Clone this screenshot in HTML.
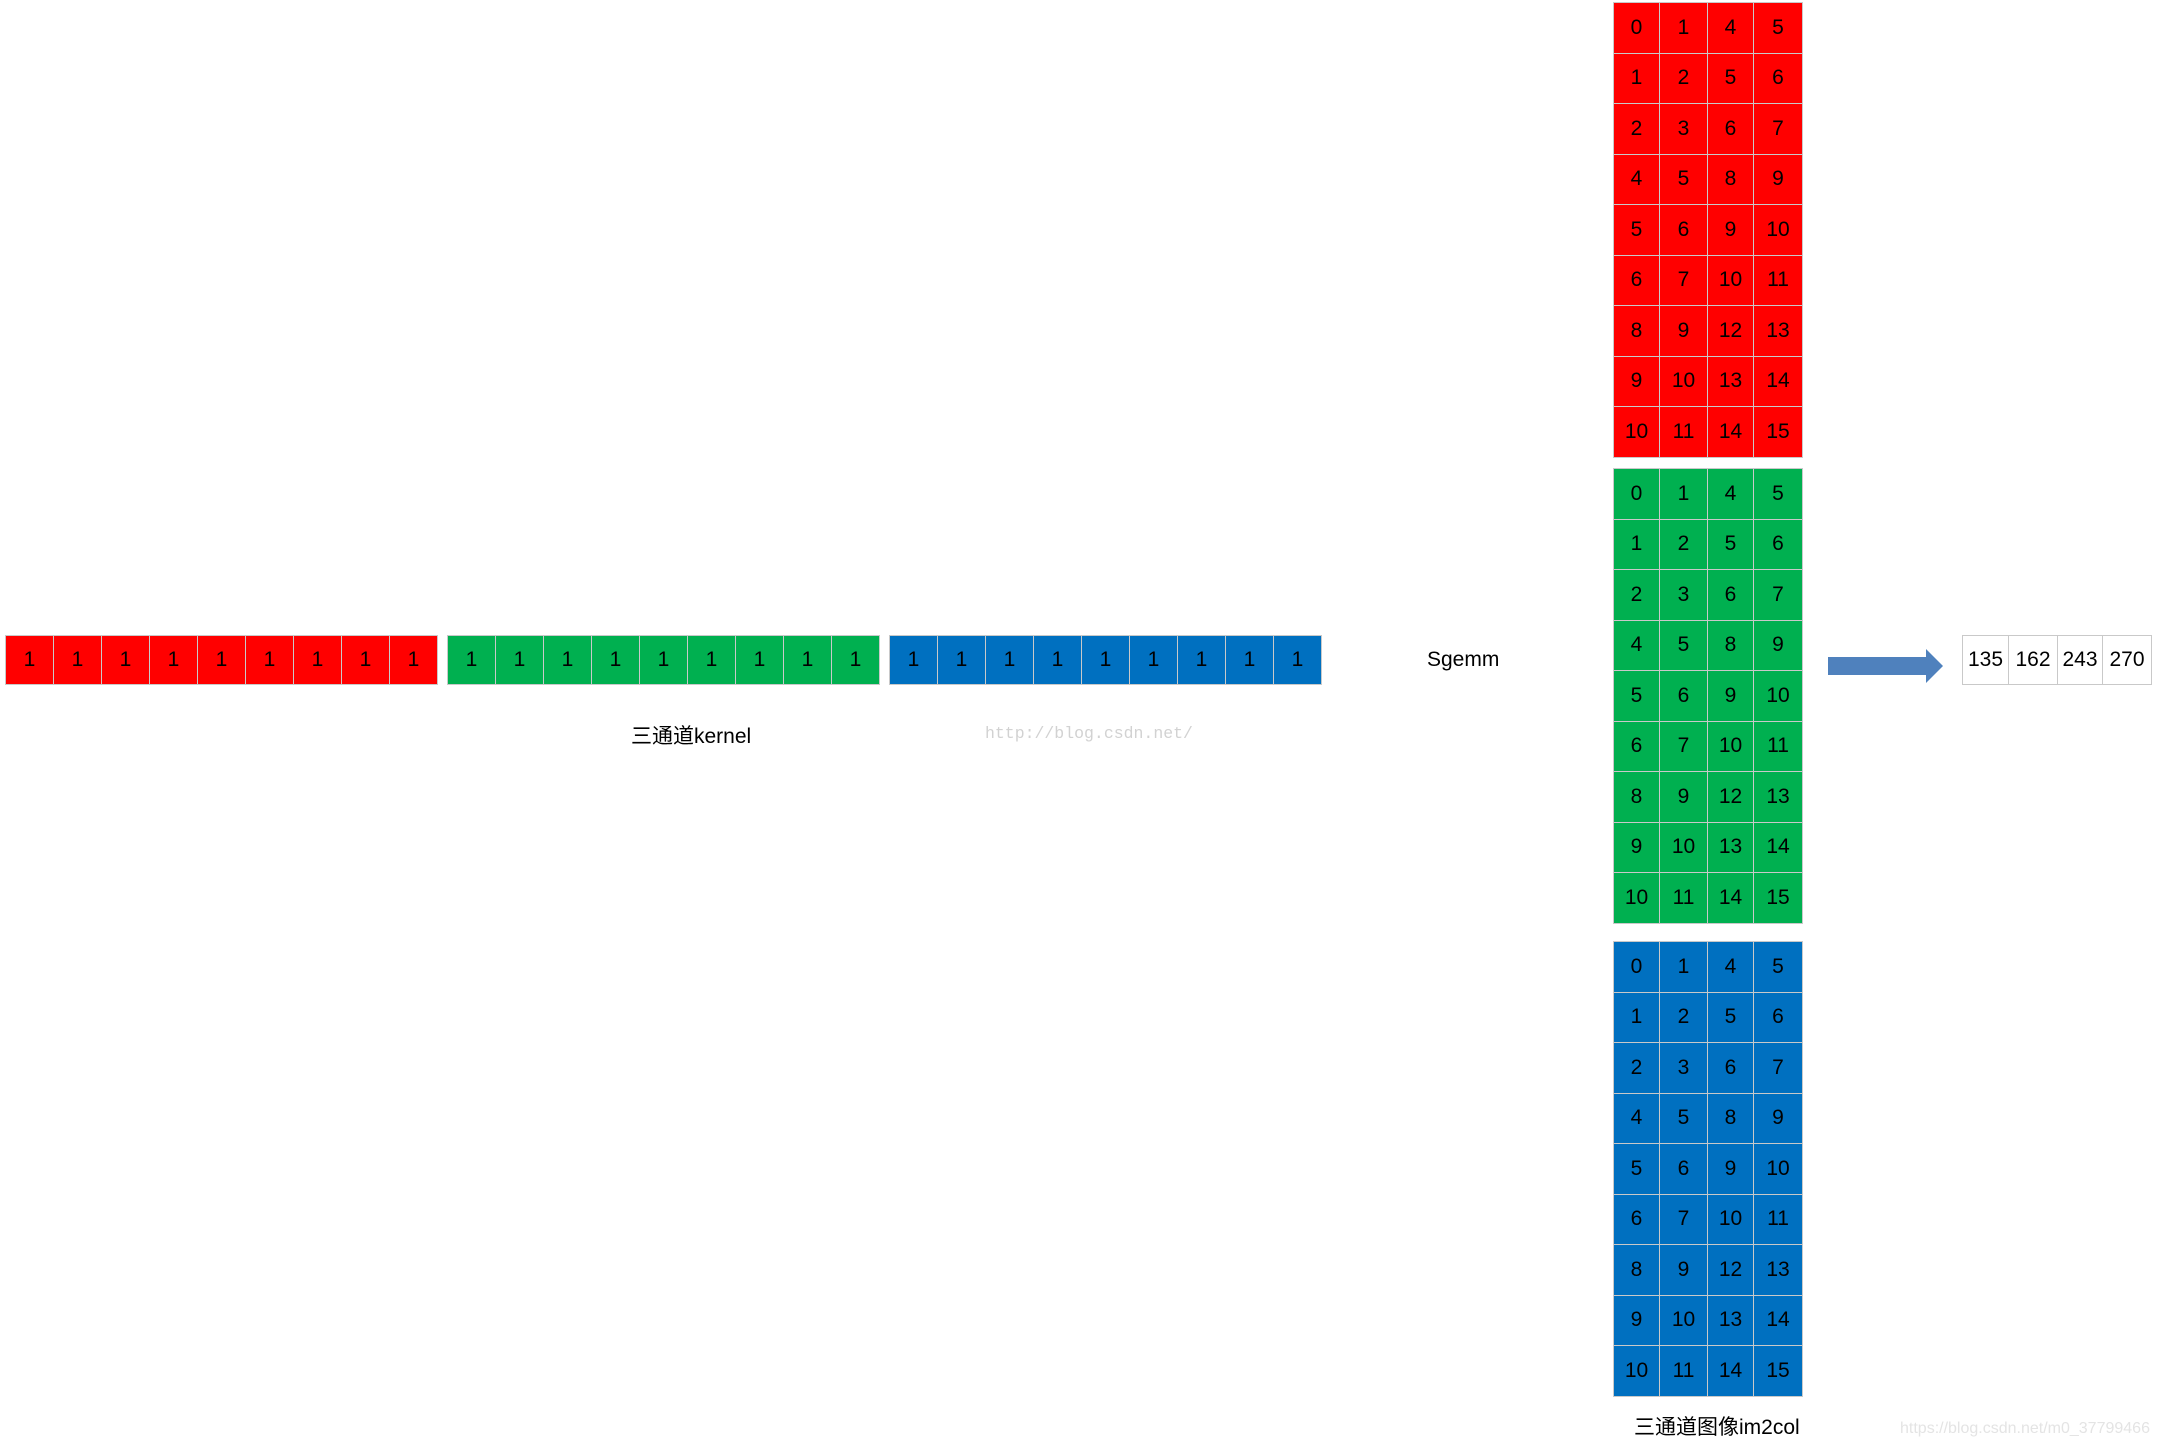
<!DOCTYPE html>
<html><head><meta charset="utf-8">
<style>
html,body{margin:0;padding:0;background:#fff;}
#root{position:relative;width:2158px;height:1450px;overflow:hidden;font-family:"Liberation Sans","Noto Sans CJK SC",sans-serif;}
.c{position:absolute;box-sizing:border-box;border:1.5px solid #c9c9c9;display:flex;align-items:center;justify-content:center;font-size:21px;color:#000;}
.t{position:absolute;white-space:nowrap;}
</style></head>
<body>
<div id="root">
  <div class="t" style="left:631px;top:720px;font-size:21px;">三通道kernel</div>
  <div class="t" style="left:985px;top:724px;font-size:16.5px;font-family:'Liberation Mono',monospace;color:#d2d2d2;">http://blog.csdn.net/</div>
  <div class="t" style="left:1427px;top:648px;font-size:21px;">Sgemm</div>
  <svg style="position:absolute;left:1826px;top:648px" width="120" height="36">
    <polygon points="2,9 100,9 100,1 117,18 100,35 100,27 2,27" fill="#4f81bd"/>
  </svg>
  <div class="t" style="left:1634px;top:1411px;font-size:21px;">三通道图像im2col</div>
  <div class="t" style="left:1900px;top:1420px;font-size:16px;color:#e4e4e4;">https://blog.csdn.net/m0_37799466</div>
</div>
<script>
const kernelValues=[1,1,1,1,1,1,1,1,1];
const imageRows=[[0,1,4,5],[1,2,5,6],[2,3,6,7],[4,5,8,9],[5,6,9,10],[6,7,10,11],[8,9,12,13],[9,10,13,14],[10,11,14,15]];
const resultValues=[135,162,243,270];
const channelColors=['#ff0000','#00b050','#0070c0'];
const root=document.getElementById('root');
function cell(x,y,w,h,txt,bg,name){
  const d=document.createElement('div');
  d.className='c';
  d.style.left=x+'px';d.style.top=y+'px';d.style.width=w+'px';d.style.height=h+'px';
  d.style.background=bg;d.textContent=txt;
  
  
  root.appendChild(d);
}
const kStarts=[5,447,889];
const kw=48;
kStarts.forEach((sx,ch)=>{
  kernelValues.forEach((v,i)=>{
    cell(sx+i*kw,635,kw+1,50,v,channelColors[ch],'kernel-cell');
  });
});
const colX=[1613,1659,1707,1753,1802];
const blockTops=[2,468,941];
const rh=50.5;
blockTops.forEach((ty,ch)=>{
  imageRows.forEach((row,r)=>{
    row.forEach((v,c)=>{
      cell(colX[c],ty+r*rh,colX[c+1]-colX[c]+1,rh+1,v,channelColors[ch],'image-cell');
    });
  });
});
const rX=[1962,2008,2057,2102,2151];
resultValues.forEach((v,i)=>{
  cell(rX[i],635,rX[i+1]-rX[i]+1,50,v,'#ffffff','result-cell');
});
</script>
</body></html>
